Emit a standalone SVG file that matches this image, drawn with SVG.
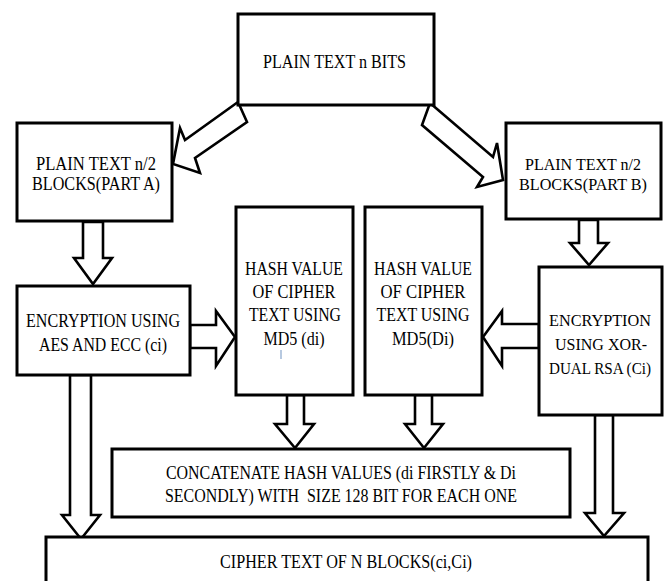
<svg xmlns="http://www.w3.org/2000/svg" width="667" height="581" viewBox="0 0 667 581">
<style>
.box{fill:#fff;stroke:#000;stroke-width:3}
.arr{fill:#fff;stroke:#000;stroke-width:2.6;stroke-linejoin:miter}
text{font-family:"Liberation Serif","Times New Roman",serif;font-size:18px;fill:#000;text-anchor:middle}
.sm{font-size:17px}
</style>
<rect width="667" height="581" fill="#fff"/>
<g id="connectors">
<polygon class="arr" points="238,102 185,140 180,128 173,164 200,173 195,158 247,122"/>
<polygon class="arr" points="430,103 493,157 497,143 503,180 477,187 483,177 422,125"/>
<polygon class="arr" points="83,222 103,222 103,258 112,258 93,284 74,258 83,258"/>
<polygon class="arr" points="579,220 598,220 598,243 608,243 589,265 570,243 579,243"/>
<polygon class="arr" points="190,325 216,325 216,311 235,337 216,366 216,348 190,348"/>
<polygon class="arr" points="539,324 502,324 502,311 483,337 502,366 502,348 539,348"/>
<polygon class="arr" points="287,395 304,395 304,424 314,424 295,448 275,424 287,424"/>
<polygon class="arr" points="415,395 432,395 432,424 443,424 424,448 405,424 415,424"/>
<polygon class="arr" points="70,375 91,375 91,515 100,515 81,539 62,515 70,515"/>
<polygon class="arr" points="595,415 613,415 613,513 624,513 604,536 585,513 595,513"/>
</g>
<g id="plain-text">
<rect class="box" x="238" y="14" width="196" height="91"/>
<text x="334.5" y="68" textLength="143" lengthAdjust="spacingAndGlyphs">PLAIN TEXT n BITS</text>
</g>
<g id="part-a">
<rect class="box" x="17" y="123" width="155" height="98"/>
<text x="96" y="170" textLength="120" lengthAdjust="spacingAndGlyphs">PLAIN TEXT n/2</text>
<text x="96" y="190" textLength="128" lengthAdjust="spacingAndGlyphs">BLOCKS(PART A)</text>
</g>
<g id="part-b">
<rect class="box" x="506" y="123" width="155" height="96"/>
<text class="sm" x="583" y="170" textLength="116" lengthAdjust="spacingAndGlyphs">PLAIN TEXT n/2</text>
<text class="sm" x="583" y="190" textLength="128" lengthAdjust="spacingAndGlyphs">BLOCKS(PART B)</text>
</g>
<g id="enc-a">
<rect class="box" x="17" y="286" width="173" height="89"/>
<text x="103" y="327" textLength="154" lengthAdjust="spacingAndGlyphs">ENCRYPTION USING</text>
<text x="103" y="351" textLength="128" lengthAdjust="spacingAndGlyphs">AES AND ECC (ci)</text>
</g>
<g id="hash-a">
<rect class="box" x="236" y="207" width="117" height="188"/>
<text x="294" y="275" textLength="98" lengthAdjust="spacingAndGlyphs">HASH VALUE</text>
<text x="294" y="298" textLength="83" lengthAdjust="spacingAndGlyphs">OF CIPHER</text>
<text x="295" y="321" textLength="92" lengthAdjust="spacingAndGlyphs">TEXT USING</text>
<text x="294" y="345" textLength="61" lengthAdjust="spacingAndGlyphs">MD5 (di)</text>
<line x1="281" y1="350" x2="281" y2="359" stroke="#9fb7d6" stroke-width="1.5"/>
</g>
<g id="hash-b">
<rect class="box" x="365" y="207" width="117" height="188"/>
<text x="423" y="275" textLength="98" lengthAdjust="spacingAndGlyphs">HASH VALUE</text>
<text x="423" y="298" textLength="85" lengthAdjust="spacingAndGlyphs">OF CIPHER</text>
<text x="423" y="321" textLength="93" lengthAdjust="spacingAndGlyphs">TEXT USING</text>
<text x="423" y="345" textLength="62" lengthAdjust="spacingAndGlyphs">MD5(Di)</text>
</g>
<g id="enc-b">
<rect class="box" x="539" y="267" width="123" height="148"/>
<text class="sm" x="600" y="326" textLength="102" lengthAdjust="spacingAndGlyphs">ENCRYPTION</text>
<text class="sm" x="601" y="350" textLength="92" lengthAdjust="spacingAndGlyphs">USING XOR-</text>
<text class="sm" x="600" y="374" textLength="102" lengthAdjust="spacingAndGlyphs">DUAL RSA (Ci)</text>
</g>
<g id="concat">
<rect class="box" x="112" y="449" width="458" height="68"/>
<text x="341" y="479" textLength="350" lengthAdjust="spacingAndGlyphs">CONCATENATE HASH VALUES (di FIRSTLY &amp; Di</text>
<text x="341" y="502" textLength="352" lengthAdjust="spacingAndGlyphs" xml:space="preserve">SECONDLY) WITH  SIZE 128 BIT FOR EACH ONE</text>
</g>
<g id="cipher">
<rect class="box" x="46" y="537" width="602" height="60"/>
<text x="346" y="568" textLength="252" lengthAdjust="spacingAndGlyphs">CIPHER TEXT OF N BLOCKS(ci,Ci)</text>
</g>
</svg>
